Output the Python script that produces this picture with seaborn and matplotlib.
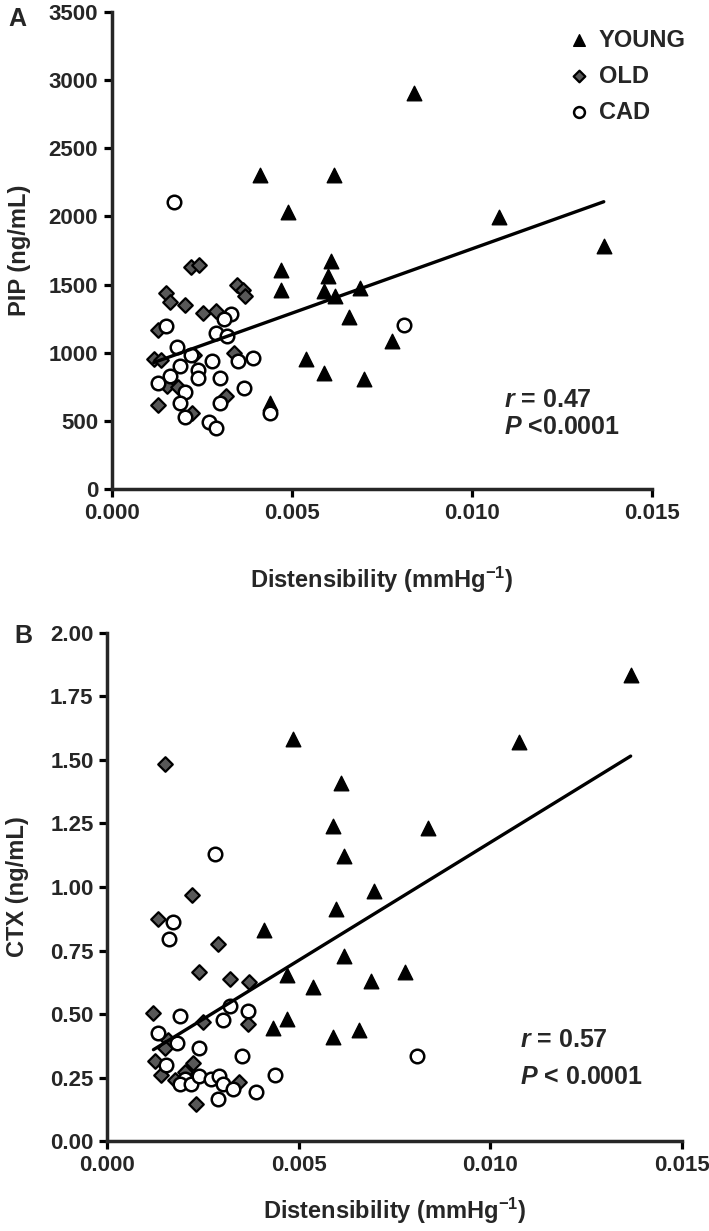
import numpy as np
import pandas as pd
import matplotlib
matplotlib.use("Agg")
import matplotlib.pyplot as plt
import seaborn as sns
from matplotlib.ticker import FormatStrFormatter, MultipleLocator

# ---------------- Panel A: PIP vs distensibility ----------------
young_x_a = [0.00410, 0.00440, 0.00470, 0.00470, 0.00488, 0.00540, 0.00588, 0.00588,
             0.00600, 0.00609, 0.00618, 0.00620, 0.00659, 0.00688, 0.00699, 0.00779,
             0.00838, 0.01074, 0.01366]
young_pip = [2306, 627, 1608, 1457, 2030, 952, 1449, 854, 1566, 1669, 2304, 1413,
             1261, 1474, 810, 1083, 2908, 1993, 1786]

old_x_a = [0.00219, 0.00241, 0.00151, 0.00160, 0.00202, 0.00347, 0.00364, 0.00370,
           0.00252, 0.00289, 0.00129, 0.00116, 0.00137, 0.00229, 0.00338, 0.00153,
           0.00183, 0.00318, 0.00129, 0.00222]
old_pip = [1627, 1645, 1437, 1371, 1352, 1493, 1457, 1415, 1293, 1303, 1169, 952,
           944, 981, 998, 756, 749, 681, 615, 554]

cad_x_a = [0.00171, 0.00150, 0.00331, 0.00310, 0.00289, 0.00319, 0.00181, 0.00219,
           0.00190, 0.00239, 0.00239, 0.00279, 0.00350, 0.00391, 0.00160, 0.00129,
           0.00299, 0.00368, 0.00204, 0.00190, 0.00299, 0.00204, 0.00270, 0.00290,
           0.00440, 0.00810]
cad_pip = [2103, 1196, 1281, 1244, 1147, 1120, 1042, 986, 900, 871, 815, 939, 939,
           961, 827, 774, 815, 744, 712, 627, 627, 529, 488, 444, 554, 1200]

# ---------------- Panel B: CTX vs distensibility ----------------
young_x_b = [0.01366, 0.01074, 0.00838, 0.00485, 0.00609, 0.00590, 0.00618, 0.00697,
             0.00597, 0.00409, 0.00618, 0.00469, 0.00537, 0.00687, 0.00777, 0.00469,
             0.00433, 0.00588, 0.00657]
young_ctx = [1.835, 1.572, 1.231, 1.581, 1.408, 1.240, 1.122, 0.985, 0.913, 0.831,
             0.728, 0.654, 0.605, 0.631, 0.667, 0.479, 0.444, 0.411, 0.437]

old_x_b = [0.00150, 0.00221, 0.00131, 0.00289, 0.00240, 0.00320, 0.00370, 0.00120,
           0.00250, 0.00157, 0.00150, 0.00124, 0.00222, 0.00140, 0.00202, 0.00176,
           0.00344, 0.00230, 0.00368]
old_ctx = [1.484, 0.969, 0.873, 0.775, 0.667, 0.638, 0.627, 0.505, 0.470, 0.398,
           0.365, 0.315, 0.306, 0.260, 0.273, 0.240, 0.231, 0.146, 0.460]

cad_x_b = [0.00281, 0.00172, 0.00161, 0.00807, 0.00189, 0.00320, 0.00301, 0.00368,
           0.00133, 0.00181, 0.00239, 0.00350, 0.00152, 0.00202, 0.00189, 0.00217,
           0.00239, 0.00270, 0.00291, 0.00302, 0.00328, 0.00388, 0.00437, 0.00289]
cad_ctx = [1.129, 0.864, 0.794, 0.336, 0.492, 0.531, 0.476, 0.513, 0.427, 0.387,
           0.365, 0.335, 0.299, 0.243, 0.224, 0.224, 0.256, 0.243, 0.256, 0.224,
           0.204, 0.192, 0.260, 0.164]

groups = ["YOUNG", "OLD", "CAD"]
x_ticks = [0.000, 0.005, 0.010, 0.015]
stats_a = [r"$\it{r}$ = 0.47", r"$\it{P}$ <0.0001"]
stats_b = [r"$\it{r}$ = 0.57", r"$\it{P}$ < 0.0001"]

# ---------------- style ----------------
sns.set_style("ticks")
plt.rcParams['font.family'] = ['Liberation Sans', 'DejaVu Sans']
plt.rcParams['font.weight'] = 'bold'
plt.rcParams['axes.labelweight'] = 'bold'
plt.rcParams['mathtext.fontset'] = 'custom'
plt.rcParams['mathtext.rm'] = 'Liberation Sans:bold'
plt.rcParams['mathtext.bf'] = 'Liberation Sans:bold'
plt.rcParams['mathtext.it'] = 'Liberation Sans:italic:bold'
plt.rcParams['mathtext.default'] = 'bf'

styles = {
    "YOUNG": dict(marker="^", color="black", edgecolor="black", s=110, linewidth=1.0),
    "OLD": dict(marker="D", color="#585858", edgecolor="black", s=55, linewidth=1.6),
    "CAD": dict(marker="o", color="white", edgecolor="black", s=95, linewidth=1.8),
}

fig = plt.figure(figsize=(7.09, 12.31), dpi=100)
ax1 = fig.add_axes([0.158, 0.6028, 0.7616, 0.3875])
ax2 = fig.add_axes([0.1516, 0.0731, 0.8103, 0.4127])


def draw(ax, xs, ys, ylim, ystep, yfmt, ylabel):
    for g, x, y in zip(groups, xs, ys):
        sns.scatterplot(x=x, y=y, ax=ax, label=g, zorder=3, clip_on=False, **styles[g])
    allx = np.concatenate([np.asarray(v) for v in xs])
    ally = np.concatenate([np.asarray(v) for v in ys])
    sns.regplot(x=allx, y=ally, ax=ax, scatter=False, ci=None, truncate=True,
                color="black", line_kws=dict(lw=2.4, zorder=5))
    ax.set_xlim(0, 0.015)
    ax.set_ylim(*ylim)
    ax.set_xticks(x_ticks)
    ax.xaxis.set_major_formatter(FormatStrFormatter('%.3f'))
    ax.yaxis.set_major_locator(MultipleLocator(ystep))
    ax.yaxis.set_major_formatter(FormatStrFormatter(yfmt))
    sns.despine(ax=ax)
    for sp in ("left", "bottom"):
        ax.spines[sp].set_linewidth(2.5)
    ax.tick_params(axis="both", direction="out", length=6, width=2.3,
                   labelsize=16, pad=4, color="black")
    ax.set_ylabel(ylabel, fontsize=17)
    ax.set_xlabel("Distensibility (mmHg$^{-1}$)", fontsize=17)


draw(ax1, [young_x_a, old_x_a, cad_x_a], [young_pip, old_pip, cad_pip],
     (0, 3500), 500, '%d', "PIP (ng/mL)")
draw(ax2, [young_x_b, old_x_b, cad_x_b], [young_ctx, old_ctx, cad_ctx],
     (0, 2.0), 0.25, '%.2f', "CTX (ng/mL)")

ax1.yaxis.set_label_coords(-0.150, 0.5)
ax1.xaxis.set_label_coords(0.5, -0.16)
ax2.yaxis.set_label_coords(-0.137, 0.5)
ax2.xaxis.set_label_coords(0.5, -0.108)

leg = ax1.legend(loc="upper left", bbox_to_anchor=(0.825, 0.985), frameon=False,
                 fontsize=17, handletextpad=0.35, labelspacing=0.55,
                 markerscale=0.8, borderaxespad=0, handlelength=1.0)
ax2.legend().remove()

ax1.text(0.0109, 651, stats_a[0], fontsize=18, va="center", ha="left")
ax1.text(0.0109, 454, stats_a[1], fontsize=18, va="center", ha="left")
ax2.text(0.01077, 0.398, stats_b[0], fontsize=18, va="center", ha="left")
ax2.text(0.01077, 0.252, stats_b[1], fontsize=18, va="center", ha="left")

fig.text(0.012, 0.994, "A", fontsize=18, fontweight="bold", va="top")
fig.text(0.020, 0.493, "B", fontsize=18, fontweight="bold", va="top")

fig.savefig("out.png", dpi=100)
